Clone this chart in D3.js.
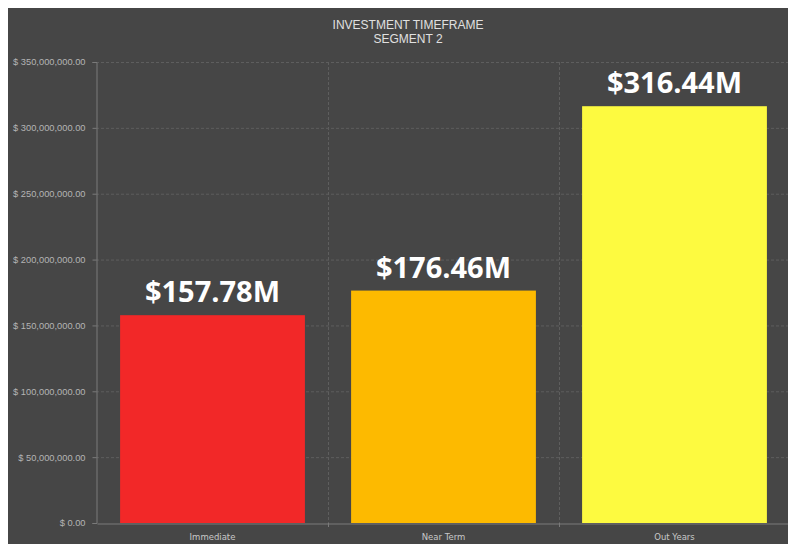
<!DOCTYPE html>
<html>
<head>
<meta charset="utf-8">
<script src="https://cdn.jsdelivr.net/npm/d3@7"></script>
<style>
  html, body { margin: 0; padding: 0; background: #ffffff; }
  svg { display: block; }
</style>
</head>
<body>
<svg id="chart" width="788" height="544"></svg>
<script>
// Chart data
const categories = ["Immediate", "Near Term", "Out Years"];
const values = [157780000, 176460000, 316440000];
const valueLabels = ["$157.78M", "$176.46M", "$316.44M"];
const barColors = ["#f22828", "#fdba00", "#fdfa40"];
const yTicks = [0, 50000000, 100000000, 150000000, 200000000, 250000000, 300000000, 350000000];
const titleLines = ["INVESTMENT TIMEFRAME", "SEGMENT 2"];

const W = 788, H = 544;
const svg = d3.select("#chart");

// panel background
svg.append("rect")
  .attr("x", 8).attr("y", 8)
  .attr("width", W - 8).attr("height", H - 8)
  .attr("fill", "#464646");

const plot = { left: 96, right: 788, top: 62, bottom: 523 };

const x = d3.scaleBand()
  .domain(categories)
  .range([97, 790])
  .paddingInner(0.2)
  .paddingOuter(0.1);

const y = d3.scaleLinear()
  .domain([0, 350000000])
  .range([plot.bottom, plot.top]);

// horizontal dashed grid
svg.append("g")
  .selectAll("line")
  .data(yTicks.slice(1))
  .join("line")
  .attr("x1", plot.left).attr("x2", plot.right)
  .attr("y1", d => y(d) + 0.5).attr("y2", d => y(d) + 0.5)
  .attr("stroke", "#5e5e5e")
  .attr("stroke-dasharray", "3,2");

// vertical dashed grid between categories
const bandStep = x.step();
const boundaries = categories.slice(1).map(c => x(c) - x.paddingInner() * bandStep / 2);
svg.append("g")
  .selectAll("line")
  .data(boundaries)
  .join("line")
  .attr("x1", d => Math.round(d) + 0.5).attr("x2", d => Math.round(d) + 0.5)
  .attr("y1", plot.top).attr("y2", plot.bottom)
  .attr("stroke", "#5e5e5e")
  .attr("stroke-dasharray", "3,2");

// bars
svg.append("g")
  .selectAll("rect")
  .data(values)
  .join("rect")
  .attr("x", (d, i) => x(categories[i]))
  .attr("y", d => y(d))
  .attr("width", x.bandwidth())
  .attr("height", d => y(0) - y(d))
  .attr("fill", (d, i) => barColors[i]);

// value labels
svg.append("g")
  .selectAll("text")
  .data(values)
  .join("text")
  .attr("x", (d, i) => x(categories[i]) + x.bandwidth() / 2)
  .attr("y", d => y(d) - 13)
  .attr("text-anchor", "middle")
  .attr("font-family", "'Open Sans', sans-serif")
  .attr("font-weight", "bold")
  .attr("font-size", 29)
  .attr("fill", "#ffffff")
  .text((d, i) => valueLabels[i]);

// y axis
const fmt = d3.format(",.2f");
const yAxis = d3.axisLeft(y)
  .tickValues(yTicks)
  .tickSize(4)
  .tickPadding(4)
  .tickFormat(d => "$ " + fmt(d));
const gy = svg.append("g")
  .attr("transform", `translate(${plot.left + 0.5},0)`)
  .call(yAxis);
gy.select(".domain").attr("stroke", "#7a7a7a");
gy.selectAll(".tick line").attr("stroke", "#7a7a7a");
gy.selectAll(".tick text")
  .attr("dx", -3)
  .attr("fill", "#b4b4b4")
  .attr("font-family", "'Liberation Sans', Arial, sans-serif")
  .attr("font-size", 9.3);

// x axis
const xAxis = d3.axisBottom(x).tickSize(0).tickPadding(10);
const gx = svg.append("g")
  .attr("transform", `translate(0,${plot.bottom + 0.5})`)
  .call(xAxis);
gx.select(".domain").attr("stroke", "#7a7a7a");
gx.selectAll(".tick text")
  .attr("fill", "#c8c8c8")
  .attr("font-family", "'DejaVu Sans', sans-serif")
  .attr("font-size", 8.5);
svg.append("g")
  .selectAll("line")
  .data(boundaries)
  .join("line")
  .attr("x1", d => Math.round(d) + 0.5).attr("x2", d => Math.round(d) + 0.5)
  .attr("y1", plot.bottom).attr("y2", plot.bottom + 4)
  .attr("stroke", "#7a7a7a");

// title
svg.append("g")
  .selectAll("text")
  .data(titleLines)
  .join("text")
  .attr("x", 408)
  .attr("y", (d, i) => 29 + i * 14)
  .attr("text-anchor", "middle")
  .attr("font-family", "'Liberation Sans', Arial, sans-serif")
  .attr("font-size", 12)
  .attr("fill", "#e0e0e0")
  .text(d => d);
</script>
</body>
</html>
